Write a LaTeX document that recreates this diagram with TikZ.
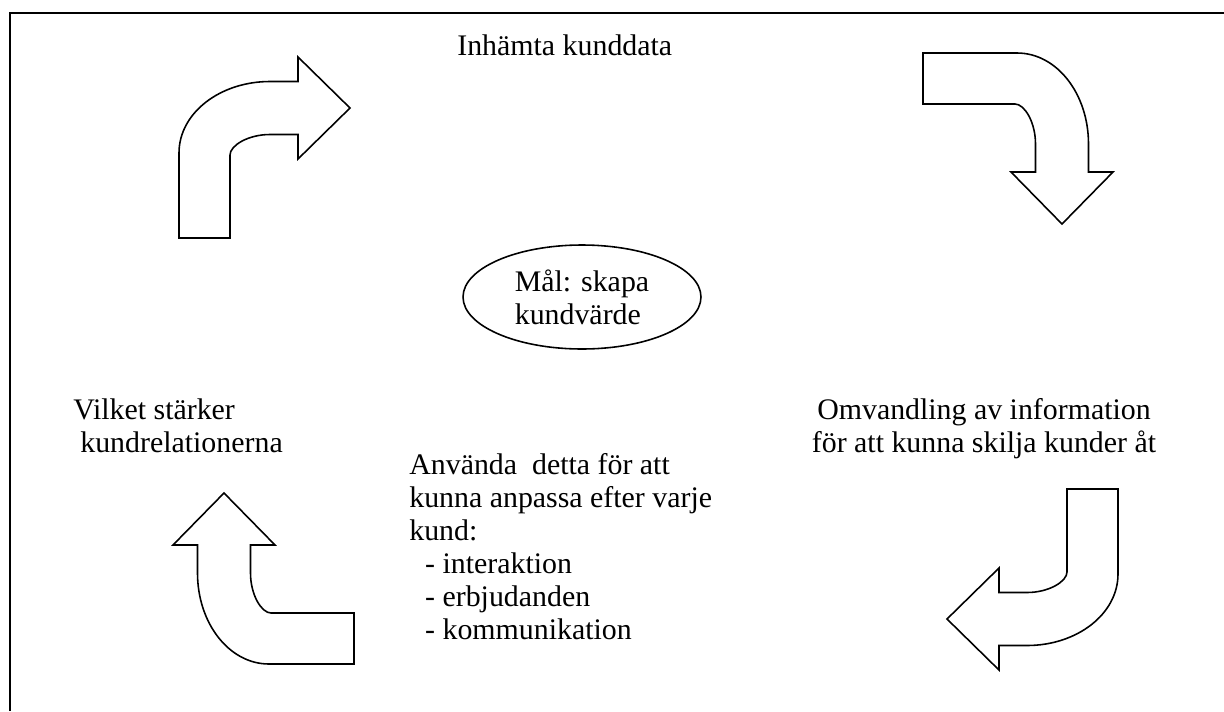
\documentclass[tikz,border=0pt]{standalone}
\usepackage{fontspec}
\setmainfont{Liberation Serif}
\usetikzlibrary{shapes.geometric}

\tikzset{
    txt/.style={font=\fontsize{17}{18.7}\selectfont, inner sep=0pt},
    arrowline/.style={line width=0.9pt, line join=miter},
    taillen/.store in=\taillen, taillen=130,
    bentarrow/.pic={
        \draw[arrowline] (-171,\taillen) -- (-171,45) .. controls (-171,5) and (-130,-26.5) .. (-80,-26.5)
            -- (-52,-26.5) -- (-52,-51) -- (0,0) -- (-52,51) -- (-52,26.5) -- (-80,26.5)
            .. controls (-102,26.5) and (-120,37.6) .. (-120,47) -- (-120,\taillen) -- cycle;
    }
}

\begin{document}
\begin{tikzpicture}[x=0.02cm, y=-0.02cm]

    \useasboundingbox (0,0) rectangle (1224,711);

    \draw[line width=1.2pt] (10,711) -- (10,13) -- (1224,13);

    \pic (tl) at (350,108) {bentarrow};
    \pic[rotate=-90, taillen=139] (tr) at (1062,224) {bentarrow};
    \pic[rotate=180] (br) at (947,619) {bentarrow};
    \pic[rotate=90] (bl) at (224,493) {bentarrow};

    \node[txt, anchor=base west] (collect) at (457,55) {Inhämta kunddata};

    \node[txt, draw, ellipse, line width=0.9pt, minimum width=4.76cm, minimum height=2.08cm, align=left]
        (goal) at (582,297) {Mål: skapa\\ kundvärde};

    % base anchor sits on the last line
    \node[txt, anchor=base west, align=left] (strengthen) at (73,452) {Vilket stärker\\ \hspace{4pt}kundrelationerna};

    \node[txt, anchor=base, align=center] (transform) at (984,452) {Omvandling av information\\ för att kunna skilja kunder åt};

    \node[txt, anchor=base west, align=left] (use) at (409,639)
        {Använda~ detta för att\\ kunna anpassa efter varje\\ kund:\\
         \hspace{9pt}- interaktion\\ \hspace{9pt}- erbjudanden\\ \hspace{9pt}- kommunikation};

\end{tikzpicture}
\end{document}
